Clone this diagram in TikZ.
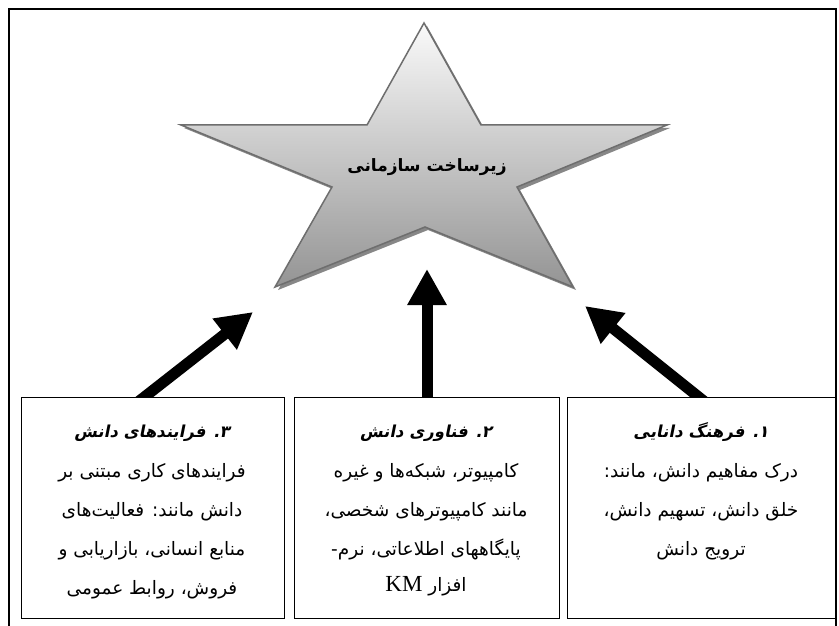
\documentclass[tikz,border=0pt]{standalone}
\usepackage{fontspec}
\usetikzlibrary{arrows.meta}
\TeXXeTstate=1
\newfontfamily\fa[Script=Arabic]{DejaVu Sans}
\newfontfamily\fahd[Script=Arabic,FakeSlant=0.2,UprightFont={* Bold}]{DejaVu Sans}
\newfontfamily\latinfont{Liberation Serif}
\newcommand{\rtl}[1]{\beginR #1\endR}
\tikzset{
  frame/.style={draw=black, line width=2pt},
  box/.style={draw=black, line width=1.3pt, fill=white, inner sep=0pt},
  bigarrow/.style={line width=11pt, -{Triangle[length=36pt,width=37pt]}},
  hd/.style={anchor=base, inner sep=0pt, font=\fahd\fontsize{16.5}{20}\selectfont},
  bd/.style={anchor=base, inner sep=0pt, font=\fa\fontsize{18.5}{22}\selectfont},
  starlab/.style={inner sep=0pt, font=\fa\bfseries\fontsize{17}{20}\selectfont},
}
\begin{document}
\begin{tikzpicture}[x=1pt,y=-1pt]
\useasboundingbox (0,0) rectangle (839,626);
\fill[white] (0,0) rectangle (839,626);
% outer frame
\draw[frame] (9,640) -- (9,9) -- (836,9) -- (836,640);
% star shadow
\fill[black!47, shift={(3,3)}] (424,23) -- (481,125) -- (667,125) -- (517,187) -- (573,287) -- (425,227) -- (275,287) -- (332,187) -- (181,125) -- (367,125) -- cycle;
% star
\path[draw=black!57, line width=1.5pt, top color=black!2, bottom color=black!42]
  (424,23) -- (481,125) -- (667,125) -- (517,187) -- (573,287) -- (425,227) -- (275,287) -- (332,187) -- (181,125) -- (367,125) -- cycle;
\node[starlab] (lab) at (427,167) {\rtl{زیرساخت سازمانی}};
% arrow coordinates
\coordinate (l0) at (138,402);
\coordinate (l1) at (253,312);
\coordinate (m0) at (427,402);
\coordinate (m1) at (427,269);
\coordinate (r0) at (705,402);
\coordinate (r1) at (585,306);
\draw[bigarrow] (l0) -- (l1);
\draw[bigarrow] (m0) -- (m1);
\draw[bigarrow] (r0) -- (r1);
% boxes
\node[box, anchor=north west, minimum width=263pt, minimum height=221pt] (b3) at (21,397) {};
\node[box, anchor=north west, minimum width=265pt, minimum height=221pt] (b2) at (294,397) {};
\node[box, anchor=north west, minimum width=268pt, minimum height=221pt] (b1) at (567,397) {};
% box 3 text
\node[hd] (t3h) at (152,437) {\rtl{۳. فرایندهای دانش}};
\node[bd] (t3a) at (152,477) {\rtl{فرایندهای کاری مبتنی بر}};
\node[bd] (t3b) at (152,516) {\rtl{دانش مانند: فعالیت‌های}};
\node[bd] (t3c) at (152,555) {\rtl{منابع انسانی، بازاریابی و}};
\node[bd] (t3d) at (152,594) {\rtl{فروش، روابط عمومی}};
% box 2 text
\node[hd] (t2h) at (426,437) {\rtl{۲. فناوری دانش}};
\node[bd] (t2a) at (426,477) {\rtl{کامپیوتر، شبکه‌ها و غیره}};
\node[bd] (t2b) at (426,516) {\rtl{مانند کامپیوترهای شخصی،}};
\node[bd] (t2c) at (426,555) {\rtl{پایگاههای اطلاعاتی، نرم-}};
\node[bd] (t2d) at (426,591) {\rtl{افزار \beginL{\latinfont\fontsize{23}{26}\selectfont KM}\endL}};
% box 1 text
\node[hd] (t1h) at (701,437) {\rtl{۱. فرهنگ دانایی}};
\node[bd] (t1a) at (701,477) {\rtl{درک مفاهیم دانش، مانند:}};
\node[bd] (t1b) at (701,516) {\rtl{خلق دانش، تسهیم دانش،}};
\node[bd] (t1c) at (701,555) {\rtl{ترویج دانش}};
\end{tikzpicture}
\end{document}
